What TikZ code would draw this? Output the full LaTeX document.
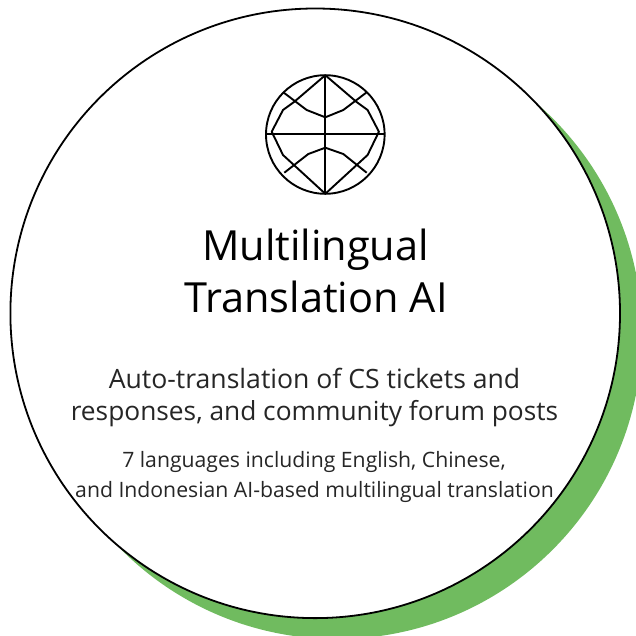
\documentclass[tikz,border=0pt]{standalone}
\usepackage{fontspec}
\setmainfont{Open Sans}
\definecolor{leaf}{HTML}{70BB5F}
\definecolor{soft}{HTML}{262626}
\tikzset{
  txt/.style={anchor=base,inner sep=0pt},
  title/.style={txt,text=black,font=\fontsize{41.5}{42}\selectfont},
  subt/.style={txt,text=soft,font=\fontsize{26.6}{27}\selectfont},
  subtb/.style={txt,text=soft,font=\fontsize{26.3}{27}\selectfont},
  small/.style={txt,text=soft,font=\fontsize{21.2}{22}\selectfont},
  globe/.style={draw=black,line width=1.9pt,line join=round},
}
\begin{document}
\begin{tikzpicture}[x=1pt,y=-1pt]
\useasboundingbox (0,0) rectangle (636,635);
\begin{scope}
\clip (0,0) rectangle (636,635);
\fill[leaf] (337,334) circle[radius=305];
\end{scope}
\draw[fill=white,line width=1.8pt] (315.2,313.3) circle[radius=304.8];
% globe
\draw[globe] (325.3,134.5) circle[radius=59.3];
\draw[globe] (325.3,75.2) -- (325.3,193.8);
\draw[globe] (266,134) -- (384.6,134);
\draw[globe] (325.3,75.2) -- (294,102) -- (283,110) -- (271.7,131.7) -- (283,155) -- (295,166) -- (325.3,193.8) -- (355.6,166) -- (367.6,155) -- (378.9,131.7) -- (367.6,110) -- (356.6,102) -- cycle;
\draw[globe] (283.3,92.3) -- (306.7,110) -- (325.3,117.3) -- (343.3,110) -- (366.7,92.3);
\draw[globe] (284.3,172.7) -- (308.3,154) -- (325.3,147.7) -- (343.3,154) -- (366.7,172.7);
% text
\node[title] (t1) at (315.5,260) {Multilingual};
\node[title] (t2) at (316,312) {Translation AI};
\node[subt] (s1) at (314.5,388) {Auto-translation of CS tickets and};
\node[subtb] (s2) at (314.5,420) {responses, and community forum posts};
\node[small] (m1) at (314,467) {7 languages including English, Chinese,};
\node[small] (m2) at (314.5,497) {and Indonesian AI-based multilingual translation};
\end{tikzpicture}
\end{document}
